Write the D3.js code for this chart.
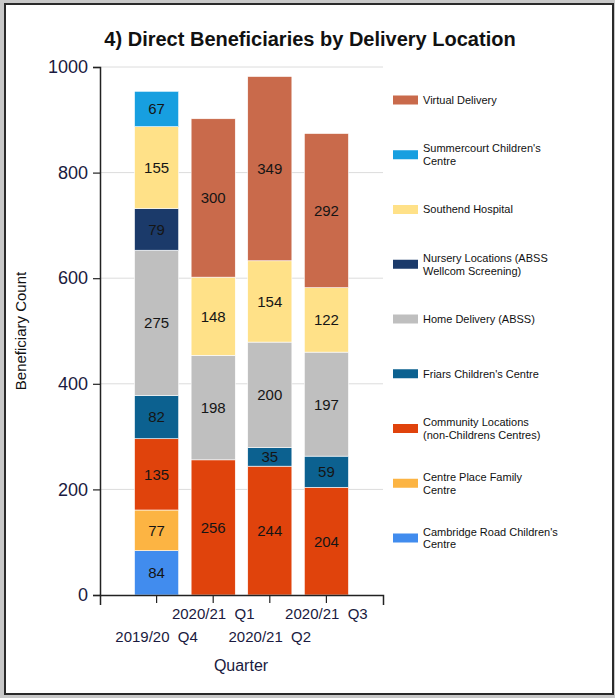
<!DOCTYPE html>
<html>
<head>
<meta charset="utf-8">
<script src="https://cdn.jsdelivr.net/npm/d3@7/dist/d3.min.js"></script>
<style>
  html, body { margin: 0; padding: 0; background: #c8c8c8; }
  svg { display: block; font-family: Arial, "Liberation Sans", sans-serif; }
</style>
</head>
<body>
<div id="chart"></div>
<script>
// quarters along the x axis
const quarters = ['2019/20 Q4', '2020/21 Q1', '2020/21 Q2', '2020/21 Q3'];

// series, bottom of the stack first
const seriesNames = [
  'Cambridge Road Children\'s Centre',
  'Centre Place Family Centre',
  'Community Locations (non-Childrens Centres)',
  'Friars Children\'s Centre',
  'Home Delivery (ABSS)',
  'Nursery Locations (ABSS Wellcom Screening)',
  'Southend Hospital',
  'Summercourt Children\'s Centre',
  'Virtual Delivery'
];

// legend text as it is wrapped in the picture
const legendLines = [
  ['Cambridge Road Children\'s', 'Centre'],
  ['Centre Place Family', 'Centre'],
  ['Community Locations', '(non-Childrens Centres)'],
  ['Friars Children\'s Centre'],
  ['Home Delivery (ABSS)'],
  ['Nursery Locations (ABSS', 'Wellcom Screening)'],
  ['Southend Hospital'],
  ['Summercourt Children\'s', 'Centre'],
  ['Virtual Delivery']
];

const seriesColors = ['#418cee', '#fcb443', '#e0430c', '#0c6190', '#bfbfbf',
                      '#1b3a6a', '#ffe188', '#179fe0', '#c96a4b'];

// values per series, one per quarter
const cambridgeRoad = [84, 0, 0, 0];
const centrePlace   = [77, 0, 0, 0];
const community     = [135, 256, 244, 204];
const friars        = [82, 0, 35, 59];
const homeDelivery  = [275, 198, 200, 197];
const nursery       = [79, 0, 0, 0];
const southend      = [155, 148, 154, 122];
const summercourt   = [67, 0, 0, 0];
const virtualDel    = [0, 300, 349, 292];

const yTicks = [0, 200, 400, 600, 800, 1000];

const seriesValues = [cambridgeRoad, centrePlace, community, friars, homeDelivery,
                      nursery, southend, summercourt, virtualDel];

const rows = quarters.map((q, i) => {
  const r = { quarter: q };
  seriesNames.forEach((s, j) => { r[s] = seriesValues[j][i]; });
  return r;
});

const W = 615, H = 698;
const svg = d3.select('#chart').append('svg').attr('width', W).attr('height', H);

// panel
svg.append('rect')
  .attr('x', 5).attr('y', 4).attr('width', 608).attr('height', 690)
  .attr('fill', '#fff').attr('stroke', '#2a2a2a').attr('stroke-width', 2);

// title
svg.append('text')
  .attr('x', 310).attr('y', 46)
  .attr('text-anchor', 'middle')
  .attr('font-size', '20px')
  .attr('font-weight', 'bold')
  .attr('fill', '#111')
  .text('4) Direct Beneficiaries by Delivery Location');

const x = d3.scaleBand()
  .domain(quarters)
  .range([100, 383])
  .paddingInner(0.22)
  .paddingOuter(0.61);

const y = d3.scaleLinear().domain([0, 1000]).range([595, 67]);

// gridlines
svg.append('g')
  .selectAll('line')
  .data(yTicks.filter(d => d > 0))
  .join('line')
  .attr('x1', 100).attr('x2', 383)
  .attr('y1', d => y(d)).attr('y2', d => y(d))
  .attr('stroke', '#dcdcdc').attr('stroke-width', 1);

// stacked bars
const stack = d3.stack().keys(seriesNames)(rows);

const layers = svg.append('g')
  .selectAll('g')
  .data(stack)
  .join('g')
  .attr('fill', (d, i) => seriesColors[i]);

layers.selectAll('rect')
  .data(d => d.filter(p => p[1] - p[0] > 0))
  .join('rect')
  .attr('x', d => x(d.data.quarter))
  .attr('width', x.bandwidth())
  .attr('y', d => y(d[1]))
  .attr('height', d => y(d[0]) - y(d[1]))
  .attr('stroke', '#fff')
  .attr('stroke-width', 0.6);

// value labels
layers.selectAll('text')
  .data(d => d.filter(p => p[1] - p[0] > 0))
  .join('text')
  .attr('x', d => x(d.data.quarter) + x.bandwidth() / 2)
  .attr('y', d => (y(d[0]) + y(d[1])) / 2)
  .attr('dy', '0.36em')
  .attr('text-anchor', 'middle')
  .attr('font-size', '15px')
  .attr('fill', '#151515')
  .text(d => d[1] - d[0]);

// y axis
const yAxis = svg.append('g')
  .attr('transform', 'translate(100,0)')
  .call(d3.axisLeft(y).tickValues(yTicks).tickFormat(d3.format('d'))
    .tickSize(7).tickSizeOuter(7).tickPadding(5));
yAxis.select('.domain').attr('stroke', '#222').attr('stroke-width', 1.5);
yAxis.selectAll('.tick line').attr('stroke', '#222').attr('stroke-width', 1.2);
yAxis.selectAll('.tick text')
  .attr('font-size', '18px')
  .attr('fill', '#1a1a40')
  .attr('font-family', 'Arial, "Liberation Sans", sans-serif');

// x axis
const xAxis = svg.append('g')
  .attr('transform', 'translate(0,595)')
  .call(d3.axisBottom(x).tickSize(8).tickSizeOuter(10));
xAxis.select('.domain').attr('stroke', '#222').attr('stroke-width', 1.5);
xAxis.selectAll('.tick line').attr('stroke', '#222').attr('stroke-width', 1.2);
xAxis.selectAll('.tick text').remove();
xAxis.selectAll('.tick')
  .append('text')
  .attr('y', (d, i) => i % 2 === 0 ? 47 : 24)
  .attr('text-anchor', 'middle')
  .attr('font-size', '15px')
  .attr('fill', '#1a1a40')
  .attr('font-family', 'Arial, "Liberation Sans", sans-serif')
  .text(d => d.replace(' ', '\u00a0\u00a0'));

// axis titles
svg.append('text')
  .attr('x', 241).attr('y', 671)
  .attr('text-anchor', 'middle')
  .attr('font-size', '16px')
  .attr('fill', '#1a1a40')
  .text('Quarter');

svg.append('text')
  .attr('transform', 'translate(26,331) rotate(-90)')
  .attr('text-anchor', 'middle')
  .attr('font-size', '15px')
  .attr('fill', '#111')
  .text('Beneficiary Count');

// legend, top item = last series
const legendOrder = d3.range(seriesNames.length).reverse();
const ly = d3.scalePoint().domain(legendOrder).range([100, 538]);

const legend = svg.append('g')
  .selectAll('g')
  .data(legendOrder)
  .join('g')
  .attr('transform', i => `translate(393,${ly(i)})`);

legend.append('rect')
  .attr('x', 0).attr('y', -4.5)
  .attr('width', 25).attr('height', 9)
  .attr('fill', i => seriesColors[i]);

legend.each(function (i) {
  const lines = legendLines[i];
  const t = d3.select(this).append('text')
    .attr('font-size', '11px')
    .attr('fill', '#111');
  lines.forEach((ln, k) => {
    t.append('tspan')
      .attr('x', 30)
      .attr('y', (k - (lines.length - 1) / 2) * 12.6)
      .attr('dy', '0.36em')
      .text(ln);
  });
});
</script>
</body>
</html>
